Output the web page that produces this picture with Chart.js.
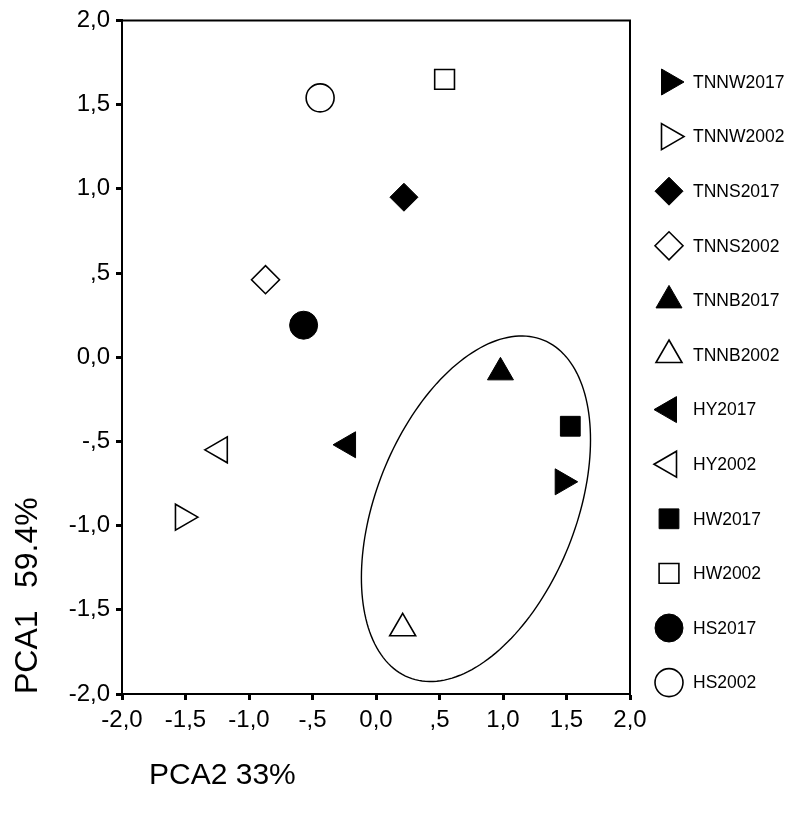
<!DOCTYPE html>
<html>
<head>
<meta charset="utf-8">
<script src="https://cdn.jsdelivr.net/npm/chart.js@4.4.1/dist/chart.umd.min.js"></script>
<style>
  html, body { margin: 0; padding: 0; background: #fff; }
  #wrap { width: 800px; height: 813px; }
</style>
</head>
<body>
<div id="wrap"><canvas id="chart"></canvas></div>
<script>
const seriesNames = [
  'TNNW2017', 'TNNW2002', 'TNNS2017', 'TNNS2002', 'TNNB2017', 'TNNB2002',
  'HY2017', 'HY2002', 'HW2017', 'HW2002', 'HS2017', 'HS2002',
];
// PCA2 (x axis) and PCA1 (y axis) scores
const pca2Scores = [1.47, -1.52, 0.22, -0.87, 0.98, 0.21, -0.22, -1.23, 1.53, 0.54, -0.57, -0.44];
const pca1Scores = [-0.74, -0.95, 0.95, 0.46, -0.09, -1.61, -0.52, -0.55, -0.41, 1.65, 0.19, 1.54];

const xTickLabels = ['-2,0', '-1,5', '-1,0', '-,5', '0,0', ',5', '1,0', '1,5', '2,0'];
const yTickLabels = ['-2,0', '-1,5', '-1,0', '-,5', '0,0', ',5', '1,0', '1,5', '2,0'];

// group ellipse in data units: centre and two conjugate radius vectors
const ellipseCenter = [0.787, -0.90];
const ellipseU = [0.902, 0.409];
const ellipseV = [0.0, 0.941];

// marker look per series (kept apart from the values)
const markerShapes = ['triangle', 'triangle', 'rectRot', 'rectRot', 'triangle', 'triangle',
  'triangle', 'triangle', 'rect', 'rect', 'circle', 'circle'];
const markerTurns = [90, 90, 0, 0, 0, 0, -90, -90, 0, 0, 0, 0];
const markerFilled = [true, false, true, false, true, false, true, false, true, false, true, false];

const FONT = "'Liberation Sans', Arial, sans-serif";

const datasets = seriesNames.map((name, i) => ({
  label: name,
  data: [{ x: pca2Scores[i], y: pca1Scores[i] }],
  pointStyle: markerShapes[i],
  pointRotation: markerTurns[i],
  pointRadius: markerShapes[i] === 'triangle' ? 15 : 14,
  pointHoverRadius: markerShapes[i] === 'triangle' ? 15 : 14,
  backgroundColor: markerFilled[i] ? '#000' : '#fff',
  borderColor: '#000',
  borderWidth: markerFilled[i] ? 1 : 1.6,
}));

const groupEllipse = {
  id: 'groupEllipse',
  afterDatasetsDraw(chart) {
    const { ctx, scales: { x, y } } = chart;
    ctx.save();
    ctx.beginPath();
    for (let k = 0; k <= 180; k++) {
      const t = (k / 180) * Math.PI * 2;
      const vx = ellipseCenter[0] + ellipseU[0] * Math.cos(t) + ellipseV[0] * Math.sin(t);
      const vy = ellipseCenter[1] + ellipseU[1] * Math.cos(t) + ellipseV[1] * Math.sin(t);
      const px = x.getPixelForValue(vx);
      const py = y.getPixelForValue(vy);
      if (k === 0) ctx.moveTo(px, py); else ctx.lineTo(px, py);
    }
    ctx.closePath();
    ctx.lineWidth = 1.4;
    ctx.strokeStyle = '#000';
    ctx.stroke();
    ctx.restore();
  },
};

const frameAndText = {
  id: 'frameAndText',
  afterDraw(chart) {
    const { ctx, chartArea: { left, right, top, bottom } } = chart;
    ctx.save();
    // top and right edges of the box
    ctx.strokeStyle = '#000';
    ctx.lineWidth = 2;
    ctx.beginPath();
    ctx.moveTo(left, top);
    ctx.lineTo(right, top);
    ctx.lineTo(right, bottom);
    ctx.stroke();

    // axis titles
    ctx.fillStyle = '#000';
    ctx.font = '30px ' + FONT;
    ctx.textAlign = 'left';
    ctx.textBaseline = 'alphabetic';
    ctx.fillText('PCA2 33%', left + 27, bottom + 90);

    ctx.save();
    ctx.font = '32px ' + FONT;
    ctx.translate(37, bottom);
    ctx.rotate(-Math.PI / 2);
    ctx.fillText('PCA1', 0, 0);
    ctx.fillText('59.4%', 106, 0);
    ctx.restore();

    // legend
    const legendX = 669;
    const legendTop = 82;
    const legendStep = 54.6;
    ctx.font = '17.5px ' + FONT;
    ctx.textBaseline = 'middle';
    chart.data.datasets.forEach((ds, i) => {
      const cy = legendTop + i * legendStep;
      ctx.fillStyle = ds.backgroundColor;
      ctx.strokeStyle = ds.borderColor;
      ctx.lineWidth = ds.borderWidth;
      Chart.helpers.drawPoint(ctx, {
        pointStyle: ds.pointStyle,
        rotation: ds.pointRotation,
        radius: ds.pointRadius,
        borderWidth: ds.borderWidth,
      }, legendX, cy);
      ctx.fillStyle = '#000';
      ctx.fillText(ds.label, 693, cy + 1);
    });
    ctx.restore();
  },
};

const axisLook = {
  type: 'linear',
  min: -2,
  max: 2,
  grid: { drawOnChartArea: false, drawTicks: true, tickLength: 6, tickWidth: 3, tickColor: '#000' },
  border: { display: true, color: '#000', width: 2 },
};

new Chart(document.getElementById('chart'), {
  type: 'scatter',
  data: { datasets },
  options: {
    responsive: true,
    maintainAspectRatio: false,
    animation: false,
    layout: { padding: { top: 14, right: 170, left: 0, bottom: 0 } },
    scales: {
      x: {
        ...axisLook,
        position: 'bottom',
        ticks: {
          stepSize: 0.5,
          autoSkip: false,
          maxRotation: 0,
          padding: 6,
          color: '#000',
          font: { family: FONT, size: 24 },
          callback: (value, index) => xTickLabels[index],
        },
        afterFit: (scale) => { scale.height = 119; },
      },
      y: {
        ...axisLook,
        position: 'left',
        ticks: {
          stepSize: 0.5,
          autoSkip: false,
          padding: 6,
          color: '#000',
          font: { family: FONT, size: 24 },
          callback: (value, index) => yTickLabels[index],
        },
        afterFit: (scale) => { scale.width = 122; },
      },
    },
    plugins: {
      legend: { display: false },
      tooltip: { enabled: false },
    },
  },
  plugins: [groupEllipse, frameAndText],
});
</script>
</body>
</html>
